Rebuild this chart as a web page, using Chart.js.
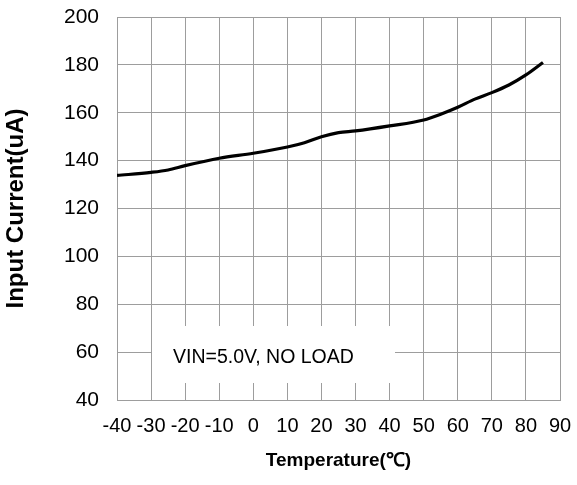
<!DOCTYPE html>
<html>
<head>
<meta charset="utf-8">
<script src="https://cdn.jsdelivr.net/npm/chart.js@4/dist/chart.umd.min.js"></script>
<style>
  html, body { margin: 0; padding: 0; background: #fff; }
  #wrap { width: 577px; height: 485px; }
</style>
</head>
<body>
<div id="wrap"><canvas id="c" width="577" height="485"></canvas></div>
<script>
// readings from the reference curve
const temps = [-40, -30, -25, -20, -10, 0, 10, 15, 20, 25, 30, 40, 50, 55, 60, 65, 70, 75, 80, 85];
const current = [133.8, 135.1, 136.1, 137.9, 141, 143.1, 145.7, 147.5, 150, 151.7, 152.4, 154.5, 157, 159.4, 162.3, 165.7, 168.4, 171.6, 175.8, 181];
const xTicks = [-40, -30, -20, -10, 0, 10, 20, 30, 40, 50, 60, 70, 80, 90];
const yTicks = [40, 60, 80, 100, 120, 140, 160, 180, 200];
const note = "VIN=5.0V, NO LOAD";

const gridGray = "#9d9d9d";
const font = "'Liberation Sans', Arial, sans-serif";

// white label box sitting over the grid
const noteBox = {
  id: "noteBox",
  beforeDatasetsDraw(chart) {
    const { ctx, chartArea } = chart;
    const x0 = chartArea.left + 35, y0 = chartArea.top + 309;
    ctx.save();
    ctx.fillStyle = "#fff";
    ctx.fillRect(x0, y0, 243, 57);
    ctx.fillStyle = "#000";
    ctx.font = "19.5px " + font;
    ctx.textBaseline = "alphabetic";
    ctx.fillText(note, x0 + 21, y0 + 36.5);
    ctx.restore();
  }
};

new Chart(document.getElementById("c"), {
  type: "line",
  data: {
    datasets: [{
      data: temps.map((t, i) => ({ x: t, y: current[i] })),
      borderColor: "#000",
      borderWidth: 3.2,
      pointRadius: 0,
      cubicInterpolationMode: "monotone",
      fill: false
    }]
  },
  options: {
    responsive: false,
    animation: false,
    layout: { padding: { top: 17, right: 17, left: 0, bottom: 0 } },
    plugins: { legend: { display: false }, tooltip: { enabled: false } },
    scales: {
      x: {
        type: "linear",
        min: -40, max: 90,
        afterBuildTicks(s) { s.ticks = xTicks.map(v => ({ value: v })); },
        afterFit(s) { s.height = 85; s.paddingLeft = 0; s.paddingRight = 0; },
        grid: { color: gridGray, lineWidth: 1, drawTicks: false },
        border: { color: gridGray, width: 1 },
        ticks: {
          autoSkip: false, maxRotation: 0, padding: 14,
          color: "#000", font: { family: font, size: 20 }
        },
        title: {
          display: true, text: "Temperature(℃)", color: "#000",
          font: { family: font, size: 19, weight: "bold", lineHeight: 1 },
          padding: { bottom: 15 }
        }
      },
      y: {
        min: 40, max: 200,
        afterBuildTicks(s) { s.ticks = yTicks.map(v => ({ value: v })); },
        afterFit(s) { s.width = 117; s.paddingTop = 0; s.paddingBottom = 0; },
        grid: { color: gridGray, lineWidth: 1, drawTicks: false },
        border: { color: gridGray, width: 1 },
        ticks: {
          padding: 18, color: "#000", font: { family: font, size: 21 }
        },
        title: {
          display: true, text: "Input Current(uA)", color: "#000",
          font: { family: font, size: 24, weight: "bold", lineHeight: 1 },
          padding: { top: 4 }
        }
      }
    }
  },
  plugins: [noteBox]
});
</script>
</body>
</html>
